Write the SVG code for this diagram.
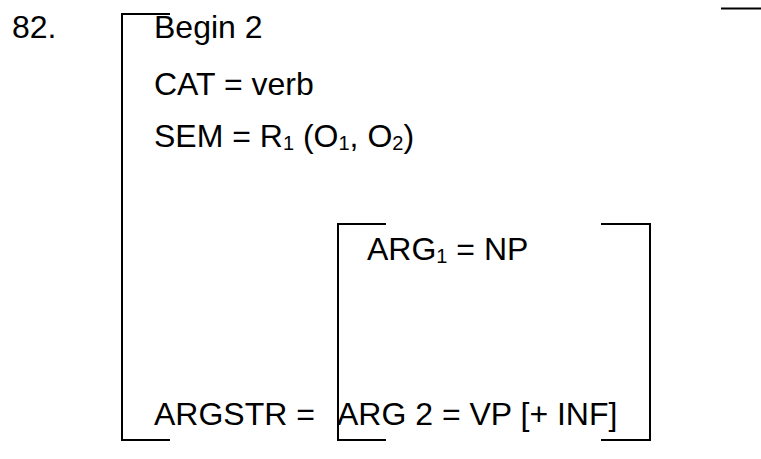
<svg xmlns="http://www.w3.org/2000/svg" width="761" height="459" viewBox="0 0 761 459">
<style>
text{font-family:"Liberation Sans",Arial,sans-serif;font-size:32px;fill:#000}
.sub{font-size:20px}
.br{stroke:#000;stroke-width:2;fill:none}
</style>
<rect width="761" height="459" fill="#fff"/>
<g id="outer-bracket">
<path class="br" d="M170,14 H122 V440 H170"/>
<path class="br" d="M721,8.5 H761"/>
</g>
<g id="inner-bracket">
<path class="br" d="M386,224 H338 V440 H386"/>
<path class="br" d="M601,224 H650 V440 H601"/>
</g>
<g id="labels">
<text x="12" y="38">82.</text>
<text x="154" y="38">Begin 2</text>
<text x="154" y="95">CAT = verb</text>
<text x="154" y="147">SEM = R<tspan class="sub" dy="3">1</tspan><tspan dy="-3"> (O</tspan><tspan class="sub" dy="3">1</tspan><tspan dy="-3">, O</tspan><tspan class="sub" dy="3">2</tspan><tspan dy="-3">)</tspan></text>
<text x="367" y="260">ARG<tspan class="sub" dy="3">1</tspan><tspan dy="-3"> = NP</tspan></text>
<text x="154" y="425">ARGSTR =</text>
<text x="337" y="425">ARG 2 = VP [+ INF]</text>
</g>
</svg>
